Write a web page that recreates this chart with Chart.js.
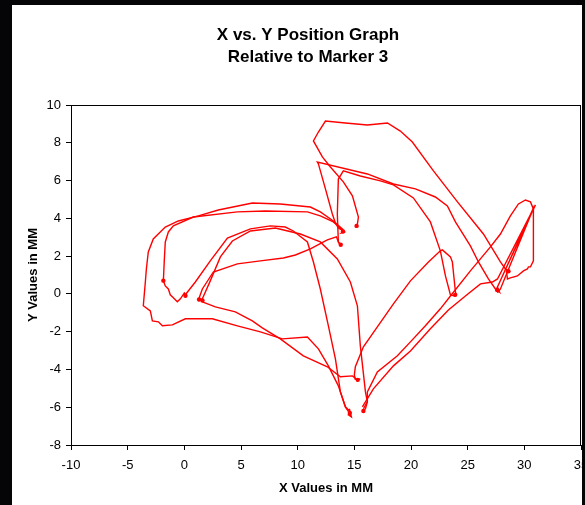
<!DOCTYPE html>
<html>
<head>
<meta charset="utf-8">
<script src="https://cdn.jsdelivr.net/npm/chart.js@4.4.1/dist/chart.umd.min.js"></script>
<style>
    body { margin: 0; background: #000; }
    canvas { display: block; }
</style>
</head>
<body>
<canvas id="myChart" width="585" height="505"></canvas>
<script>
// trajectory pieces (mm)
const outerLoopX = [14.03, 13.15, 12.0, 11.12, 8.47, 6.0, 3.0, 1.24, -0.53, -1.68, -2.74, -3.18, -3.35, -3.44, -3.62, -3.0, -2.82, -2.29, -1.94, -1.06, 0.09, 2.47, 4.68, 6.71, 8.65, 10.86, 11.83, 12.71, 13.59, 14.21, 14.65, 14.47, 14.74, 14.56];
const outerLoopY = [3.39, 3.86, 4.34, 4.6, 4.76, 4.81, 4.44, 4.13, 3.86, 3.54, 2.91, 2.22, 1.32, 0.63, -0.63, -0.9, -1.43, -1.48, -1.69, -1.64, -1.32, -1.32, -1.69, -2.01, -2.38, -2.28, -2.91, -3.81, -4.87, -5.98, -6.24, -6.4, -6.51, -6.08];

const innerLoopX = [0.18, 0.0, -0.35, -0.62, -0.97, -1.24, -1.41, -1.68, -1.85, -1.77, -1.68, -1.41, -0.97, 0.79, 4.68, 7.15, 10.86, 12.0, 13.15, 13.77, 14.03, 13.86, 14.21];
const innerLoopY = [-0.11, 0.05, -0.26, -0.42, -0.21, -0.05, 0.26, 0.42, 0.69, 1.75, 2.75, 3.28, 3.6, 4.07, 4.34, 4.39, 4.34, 4.13, 3.81, 3.49, 3.33, 3.23, 3.28];

const archLeftX = [0.0, 0.97, 2.29, 3.8, 5.83, 7.59, 8.91, 9.62, 10.86, 11.39, 12.0, 12.71, 13.33, 13.77, 14.21, 14.56];
const archLeftY = [-0.11, 0.63, 1.75, 2.96, 3.44, 3.6, 3.54, 3.33, 2.75, 1.69, 0.26, -1.69, -3.44, -5.19, -5.98, -6.3];

const archRightX = [1.24, 1.59, 2.29, 3.18, 4.24, 5.83, 8.03, 10.24, 12.0, 13.5, 14.65, 15.27, 15.53, 15.98, 16.15, 15.98, 15.71];
const archRightY = [-0.37, -0.26, 0.69, 1.96, 2.8, 3.33, 3.49, 3.17, 2.75, 1.85, 0.63, -0.63, -2.75, -5.19, -5.71, -6.08, -6.19];

const ribX = [1.24, 1.59, 2.56, 4.68, 6.71, 8.74, 9.8, 11.12, 12.62, 13.42, 13.59, 13.77];
const ribY = [-0.32, 0.26, 1.16, 1.59, 1.75, 1.9, 2.06, 2.38, 2.86, 3.02, 2.75, 2.59];

const lowPassX = [1.59, 2.74, 4.5, 6.0, 6.88, 8.47, 10.5, 12.62, 13.77, 14.83, 15.27, 15.53];
const lowPassY = [-0.42, -0.69, -0.95, -1.43, -1.8, -2.38, -3.28, -3.86, -4.39, -4.34, -4.55, -4.5];

const peakX = [15.09, 15.0, 15.09, 15.8, 17.03, 18.45, 19.95, 21.54, 22.59, 22.77, 23.48, 23.65, 23.74, 23.92, 24.01];
const peakY = [-4.55, -4.29, -3.86, -2.8, -1.75, -0.53, 0.69, 1.69, 2.28, 2.33, 1.96, 1.69, 1.16, 0.11, -0.11];

const topLoopX = [15.09, 15.27, 15.36, 14.83, 14.03, 12.89, 12.18, 11.39, 11.83, 12.45, 14.21, 16.15, 17.92, 19.06, 20.12, 21.98, 24.1, 26.39, 27.89, 28.33, 28.6];
const topLoopY = [3.54, 3.7, 4.07, 5.19, 5.93, 6.72, 7.25, 8.1, 8.57, 9.15, 9.05, 8.94, 9.05, 8.62, 8.04, 6.51, 4.87, 3.17, 1.69, 1.32, 1.22];

const sevenX = [14.03, 13.59, 13.33, 13.06, 12.45, 11.83, 11.74, 16.15, 18.45, 20.39, 22.15, 23.21, 23.92, 25.24, 25.95, 26.83, 27.45, 27.63];
const sevenY = [3.33, 3.49, 3.76, 4.23, 5.56, 6.88, 6.98, 6.35, 5.82, 5.56, 5.13, 4.66, 3.81, 2.54, 1.69, 0.79, 0.26, 0.16];

const sixX = [13.77, 13.59, 13.5, 13.59, 14.03, 15.53, 17.3, 18.45, 20.21, 21.71, 22.59, 23.04, 23.48, 23.92];
const sixY = [2.59, 2.75, 4.23, 6.08, 6.51, 6.24, 5.98, 5.77, 5.08, 3.81, 2.28, 0.95, -0.05, -0.11];

const rightLoopX = [15.8, 16.15, 16.15, 17.03, 18.8, 19.95, 21.27, 22.59, 23.48, 25.24, 27.01, 27.89, 28.77, 29.48, 30.1, 30.54, 30.8, 30.8, 30.54, 30.36, 30.27, 29.92, 29.39, 28.77, 28.51, 28.42, 28.6];
const rightLoopY = [-6.08, -5.71, -5.19, -4.13, -3.28, -2.54, -1.69, -0.79, -0.11, 1.22, 2.49, 3.17, 4.13, 4.76, 4.97, 4.87, 4.5, 1.75, 1.43, 1.43, 1.32, 1.22, 0.95, 0.85, 0.79, 1.22, 1.27];

const spikeX = [15.71, 16.68, 18.45, 19.95, 21.71, 23.3, 24.8, 26.13, 27.18, 27.63, 30.98, 27.54, 27.8, 27.63, 30.89, 27.89, 27.63];
const spikeY = [-5.98, -5.03, -3.81, -3.02, -1.85, -0.85, -0.11, 0.53, 0.63, 0.79, 4.71, 0.26, 0.11, 0.37, 4.66, 0.26, 0.05];

// places where the marker sat still (dense blobs)
const stopX = [0.1, 1.3, 1.6, -1.85, 14.0, 13.8, 15.2, 15.3, 14.6, 15.8, 23.9, 27.6, 28.6];
const stopY = [-0.1, -0.3, -0.35, 0.7, 3.3, 2.6, 3.6, -4.55, -6.3, -6.2, -0.05, 0.2, 1.2];

const xTicks = [-10, -5, 0, 5, 10, 15, 20, 25, 30, 35];
const yTicks = [-8, -6, -4, -2, 0, 2, 4, 6, 8, 10];

const pieces = [
    [outerLoopX, outerLoopY], [innerLoopX, innerLoopY], [archLeftX, archLeftY],
    [archRightX, archRightY], [ribX, ribY], [lowPassX, lowPassY], [peakX, peakY],
    [topLoopX, topLoopY], [sevenX, sevenY], [sixX, sixY], [rightLoopX, rightLoopY],
    [spikeX, spikeY],
];

const toPoints = (xs, ys) => xs.map((x, i) => ({ x: x, y: ys[i] }));
const font = "'Liberation Sans', Arial, sans-serif";

const datasets = pieces.map(([xs, ys]) => ({
    data: toPoints(xs, ys),
    showLine: true,
    borderColor: "#ff0000",
    borderWidth: 1.4,
    pointRadius: 0,
    tension: 0,
}));
datasets.push({
    data: toPoints(stopX, stopY),
    showLine: false,
    pointRadius: 2.2,
    pointBackgroundColor: "#ff0000",
    pointBorderColor: "#ff0000",
    pointBorderWidth: 0,
});

// black frame, white sheet, box around plot, two-line heading
const frame = {
    id: "frame",
    beforeDraw(chart) {
        const c = chart.ctx;
        c.save();
        c.fillStyle = "#050508";
        c.fillRect(0, 0, chart.width, chart.height);
        c.fillStyle = "#fff";
        c.fillRect(12, 5, 570, chart.height - 5);
        c.restore();
    },
    afterDraw(chart) {
        const c = chart.ctx;
        const a = chart.chartArea;
        c.save();
        c.strokeStyle = "#000";
        c.lineWidth = 1;
        c.beginPath();
        c.moveTo(a.left, Math.round(a.top) + 0.5);
        c.lineTo(a.right, Math.round(a.top) + 0.5);
        c.moveTo(Math.round(a.right) - 0.5, a.top);
        c.lineTo(Math.round(a.right) - 0.5, a.bottom);
        c.stroke();
        c.fillStyle = "#000";
        c.font = "bold 17px " + font;
        c.textAlign = "center";
        c.textBaseline = "alphabetic";
        c.fillText("X vs. Y Position Graph", 308, 40);
        c.fillText("Relative to Marker 3", 308, 61.5);
        c.restore();
    },
};

var canvas = document.getElementById("myChart");
var ctx = canvas.getContext("2d");
var myChart = new Chart(ctx, {
    type: "scatter",
    data: { datasets: datasets },
    options: {
        responsive: false,
        animation: false,
        layout: { padding: { left: 12, top: 105, right: 4, bottom: 0 } },
        plugins: {
            legend: { display: false },
            tooltip: { enabled: false },
        },
        scales: {
            x: {
                type: "linear",
                min: xTicks[0],
                max: xTicks[xTicks.length - 1],
                afterBuildTicks: (s) => { s.ticks = xTicks.map((v) => ({ value: v })); },
                afterFit: (s) => { s.height = 60; s.paddingRight = 0; },
                ticks: { color: "#000", padding: 8, font: { family: font, size: 13 } },
                grid: { drawOnChartArea: false, tickLength: 5, color: "#000" },
                border: { color: "#000", width: 1 },
                title: {
                    display: true,
                    text: "X Values in MM",
                    color: "#000",
                    font: { family: font, size: 13, weight: "bold" },
                    padding: { top: 4, bottom: 9 },
                },
            },
            y: {
                type: "linear",
                min: yTicks[0],
                max: yTicks[yTicks.length - 1],
                afterBuildTicks: (s) => { s.ticks = yTicks.map((v) => ({ value: v })); },
                afterFit: (s) => { s.width = 59; },
                ticks: { color: "#000", padding: 5, font: { family: font, size: 13 } },
                grid: { drawOnChartArea: false, tickLength: 5, color: "#000" },
                border: { color: "#000", width: 1 },
                title: {
                    display: true,
                    text: "Y Values in MM",
                    color: "#000",
                    font: { family: font, size: 13, weight: "bold" },
                    padding: { top: 14, bottom: 0 },
                },
            },
        },
    },
    plugins: [frame],
});
</script>
</body>
</html>
